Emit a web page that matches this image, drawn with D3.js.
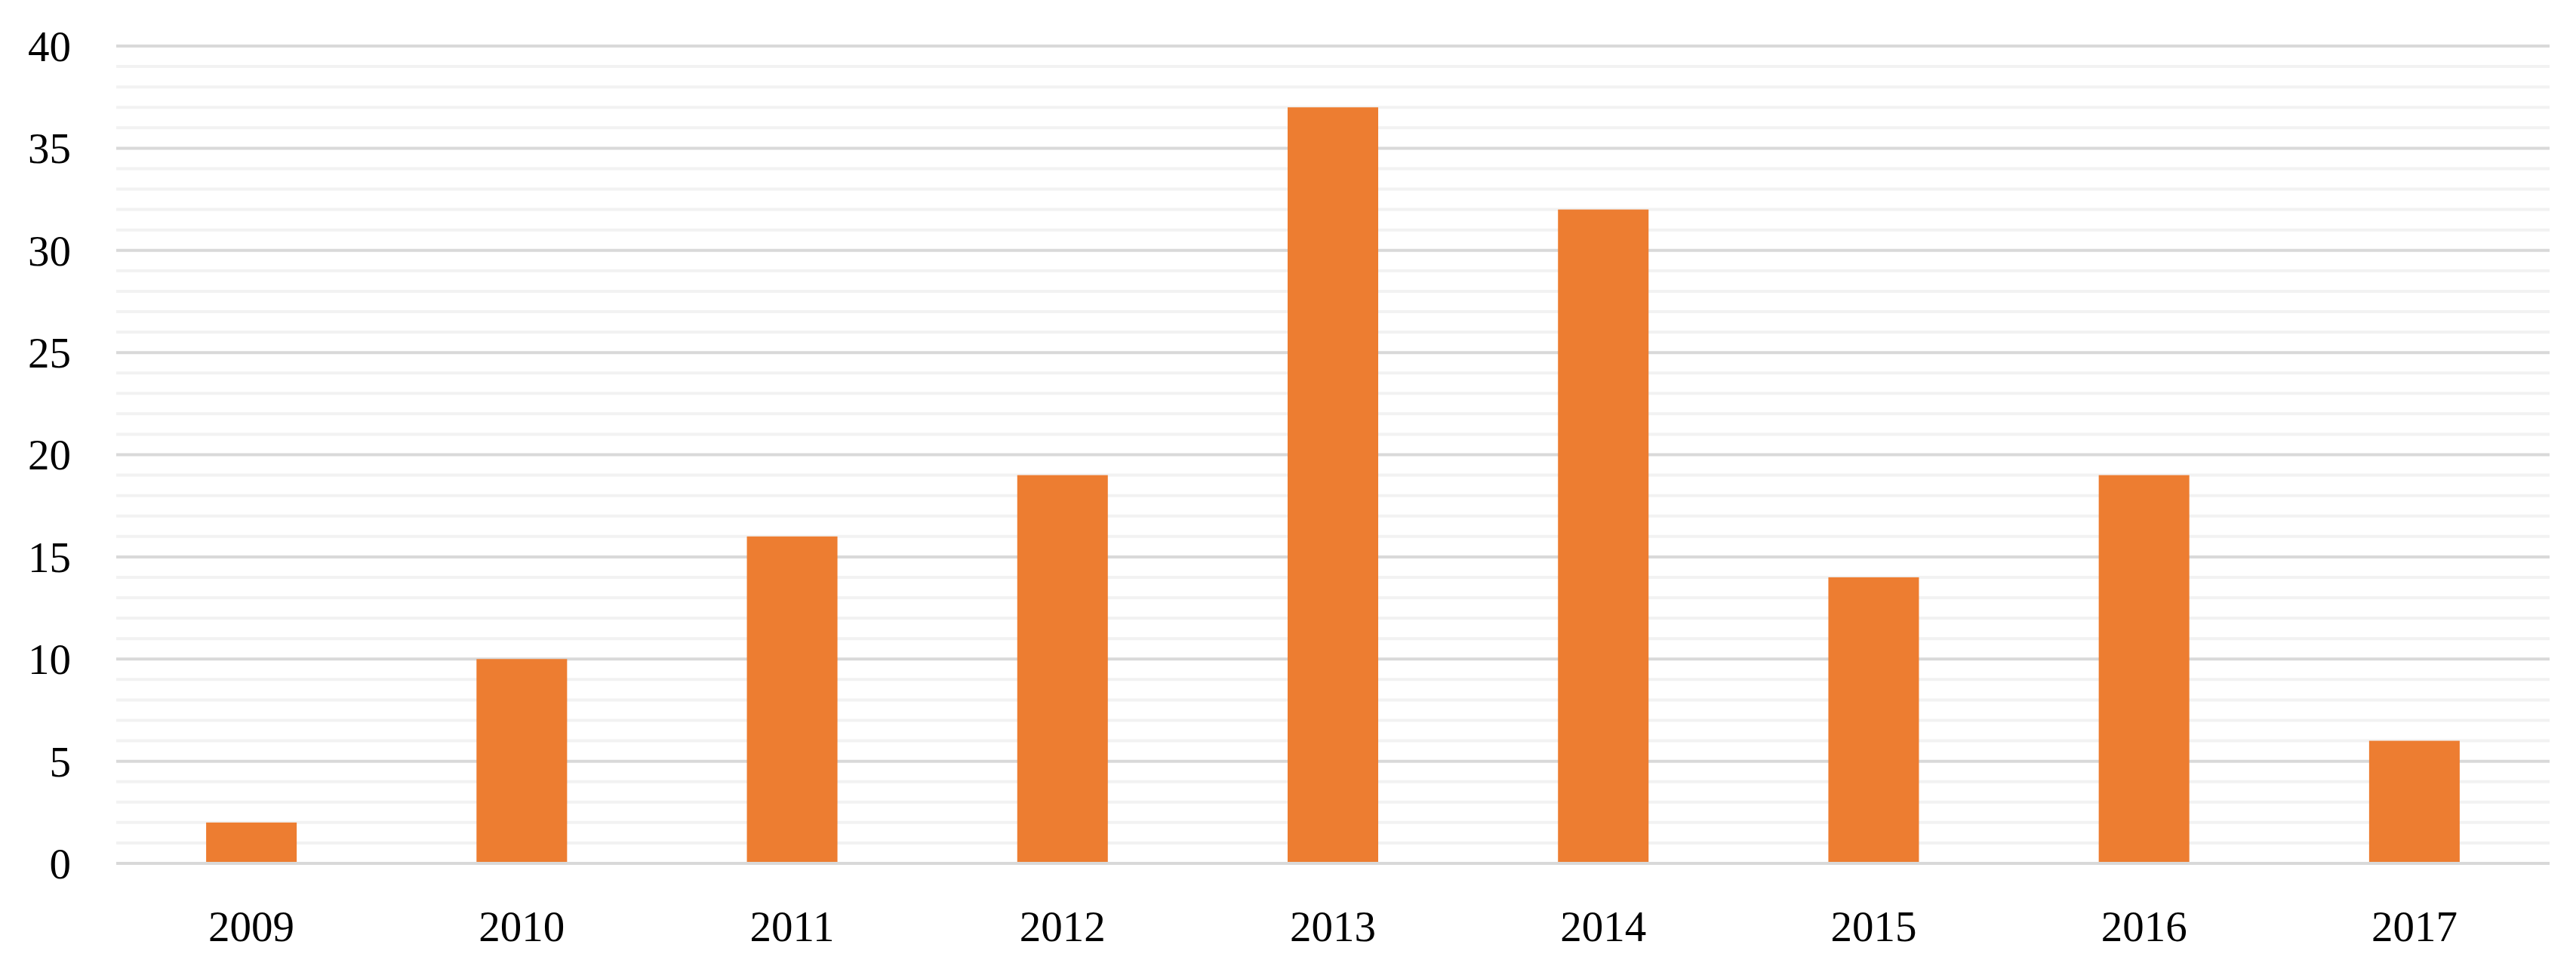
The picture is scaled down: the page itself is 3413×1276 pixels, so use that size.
<!DOCTYPE html>
<html><head><meta charset="utf-8">
<script src="https://cdn.jsdelivr.net/npm/d3@7"></script>
<style>html,body{margin:0;padding:0;background:#fff;}svg{display:block;}</style>
</head><body>
<script>
const categories = ["2009","2010","2011","2012","2013","2014","2015","2016","2017"];
const values = [2, 10, 16, 19, 37, 32, 14, 19, 6];
const yTicks = [0, 5, 10, 15, 20, 25, 30, 35, 40];

const W = 3413, H = 1276;
const m = {left: 154, right: W - 3378, top: 61, bottom: H - 1144};
const svg = d3.select("body").append("svg").attr("width", W).attr("height", H);
const x = d3.scaleBand().domain(categories).range([m.left, W - m.right]).padding(0);
const y = d3.scaleLinear().domain([0, 40]).range([H - m.bottom, m.top]);
const font = "'Liberation Serif', 'DejaVu Serif', serif";

// minor gridlines
const minor = d3.range(0, 41, 1).filter(v => v % 5 !== 0);
svg.append("g").selectAll("line").data(minor).join("line")
  .attr("x1", m.left).attr("x2", W - m.right)
  .attr("y1", d => y(d)).attr("y2", d => y(d))
  .attr("stroke", "#f2f2f2").attr("stroke-width", 4);
// major gridlines
svg.append("g").selectAll("line").data(yTicks).join("line")
  .attr("x1", m.left).attr("x2", W - m.right)
  .attr("y1", d => y(d)).attr("y2", d => y(d))
  .attr("stroke", "#d9d9d9").attr("stroke-width", 4);

// bars
const bw = x.bandwidth() * 0.335;
svg.append("g").selectAll("rect").data(values).join("rect")
  .attr("x", (d, i) => x(categories[i]) + x.bandwidth() / 2 - bw / 2)
  .attr("width", bw)
  .attr("y", d => y(d))
  .attr("height", d => y(0) - y(d) - 2)
  .attr("fill", "#ED7D31");

// y labels
svg.append("g").selectAll("text").data(yTicks).join("text")
  .attr("x", 94).attr("y", d => y(d)).attr("dy", "0.35em")
  .attr("text-anchor", "end")
  .attr("font-family", font).attr("font-size", 57).attr("fill", "#000")
  .text(d => d);

// x labels
svg.append("g").selectAll("text").data(categories).join("text")
  .attr("x", d => x(d) + x.bandwidth() / 2).attr("y", 1247)
  .attr("text-anchor", "middle")
  .attr("font-family", font).attr("font-size", 57).attr("fill", "#000")
  .text(d => d);
</script>
</body></html>
